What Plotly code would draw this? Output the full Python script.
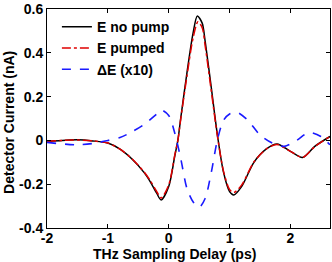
import plotly.graph_objects as go

# data
x_nopump = [-2.0, -1.75, -1.5, -1.25, -1.0, -0.8, -0.6, -0.4, -0.3, -0.2, -0.125, 0.0, 0.1, 0.15, 0.2, 0.3, 0.4, 0.47, 0.55, 0.6, 0.7, 0.8, 0.9, 1.0, 1.07, 1.2, 1.4, 1.6, 1.78, 2.0, 2.2, 2.4, 2.65]
y_nopump = [-0.004, 0.0, 0.003, -0.002, -0.012, -0.04, -0.086, -0.148, -0.19, -0.24, -0.272, -0.21, -0.07, 0.0, 0.107, 0.31, 0.49, 0.569, 0.536, 0.45, 0.24, 0.025, -0.145, -0.234, -0.249, -0.21, -0.10, -0.04, -0.016, -0.05, -0.078, -0.027, 0.018]

x_pumped = [-2.0, -1.75, -1.5, -1.25, -1.0, -0.8, -0.6, -0.4, -0.3, -0.2, -0.125, 0.0, 0.1, 0.15, 0.2, 0.3, 0.4, 0.48, 0.55, 0.6, 0.7, 0.8, 0.9, 1.0, 1.07, 1.2, 1.4, 1.6, 1.78, 2.0, 2.2, 2.4, 2.65]
y_pumped = [-0.004, 0.0, 0.002, -0.002, -0.012, -0.04, -0.085, -0.145, -0.185, -0.232, -0.263, -0.203, -0.066, 0.0, 0.103, 0.295, 0.468, 0.542, 0.515, 0.43, 0.225, 0.02, -0.14, -0.224, -0.238, -0.203, -0.098, -0.04, -0.018, -0.05, -0.077, -0.028, 0.018]

x_delta = [-2.0, -1.5, -1.2, -1.0, -0.8, -0.6, -0.4, -0.2, -0.12, 0.0, 0.1, 0.2, 0.3, 0.4, 0.5, 0.6, 0.7, 0.8, 0.9, 1.0, 1.12, 1.3, 1.5, 1.7, 1.9, 2.1, 2.3, 2.5, 2.65]
y_delta = [-0.009, -0.02, -0.012, 0.0, 0.013, 0.04, 0.074, 0.12, 0.139, 0.114, 0.033, -0.086, -0.22, -0.28, -0.306, -0.264, -0.145, 0.003, 0.092, 0.121, 0.129, 0.092, 0.025, -0.012, -0.027, 0.0, 0.036, 0.018, -0.02]

names = ["E no pump", "E pumped", "\u0394E (x10)"]
x_ticks = [-2, -1, 0, 1, 2]
x_ticktext = ["-2", "-1", "0", "1", "2"]
y_ticks = [-0.4, -0.2, 0, 0.2, 0.4, 0.6]
y_ticktext = ["-0.4", "-0.2", "0", "0.2", "0.4", "0.6"]
x_title = "THz Sampling Delay (ps)"
y_title = "Detector Current (nA)"

FONT = "Liberation Sans, Arial, sans-serif"

fig = go.Figure()
fig.add_trace(go.Scatter(x=x_nopump, y=y_nopump, mode="lines", name=names[0],
                         line=dict(color="black", width=1.5, shape="spline", smoothing=0.8)))
fig.add_trace(go.Scatter(x=x_pumped, y=y_pumped, mode="lines", name=names[1],
                         line=dict(color="#e00000", width=1.5, dash="dashdot", shape="spline", smoothing=0.8)))
fig.add_trace(go.Scatter(x=x_delta, y=y_delta, mode="lines", name=names[2],
                         line=dict(color="#1a1aff", width=1.6, dash="dash", shape="spline", smoothing=0.8)))

axis_common = dict(showgrid=False, zeroline=False, showline=True, linecolor="black", linewidth=1,
                   mirror="ticks", ticks="inside", ticklen=4, tickcolor="black",
                   ticklabeloverflow="allow",
                   tickfont=dict(family=FONT, size=14, color="black"))

fig.update_layout(
    width=332, height=262,
    margin=dict(l=47, r=1, t=3, b=34),
    plot_bgcolor="white", paper_bgcolor="white",
    showlegend=True,
    legend=dict(x=0.035, y=0.99, xanchor="left", yanchor="top", bgcolor="rgba(0,0,0,0)",
                font=dict(family=FONT, size=14, color="black", weight="bold"),
                tracegroupgap=0, itemwidth=30),
    xaxis=dict(range=[-2, 2.65], tickvals=x_ticks, ticktext=["<b>%s</b>" % t for t in x_ticktext],
               ticklabelstandoff=-3, **axis_common),
    yaxis=dict(range=[-0.4, 0.6005], tickvals=y_ticks, ticktext=["<b>%s</b>" % t for t in y_ticktext],
               ticklabelstandoff=0, **axis_common),
    annotations=[
        dict(text="<b>%s</b>" % x_title, xref="paper", yref="paper", x=0.45, y=0, xanchor="center",
             yanchor="top", yshift=-16, showarrow=False,
             font=dict(family=FONT, size=14, color="black")),
        dict(text="<b>%s</b>" % y_title, xref="paper", yref="paper", x=0, y=0.48, xanchor="center",
             yanchor="middle", xshift=-38, textangle=-90, showarrow=False,
             font=dict(family=FONT, size=14, color="black")),
    ],
)

fig.write_html("out.html", config={"displayModeBar": False},
               post_script="document.body.style.margin='0';document.body.style.padding='0';")
